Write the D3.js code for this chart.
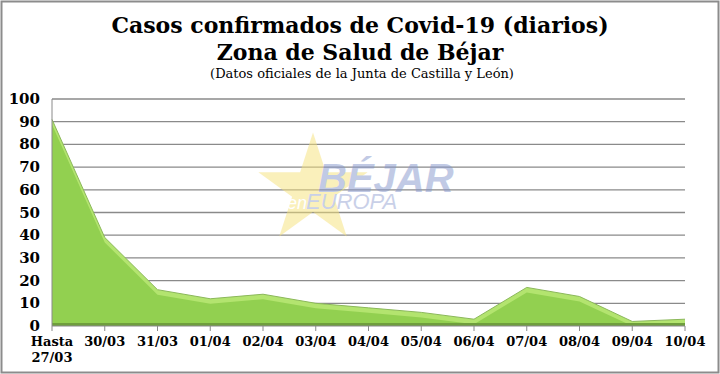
<!DOCTYPE html>
<html>
<head>
<meta charset="utf-8">
<script src="https://cdn.jsdelivr.net/npm/d3@7"></script>
<style>
  body { margin: 0; background: #fff; }
  svg { display: block; }
  .tick-y { font: bold 15px Georgia, "DejaVu Serif", serif; fill: #000; }
  .tick-x { font: bold 13px Georgia, "DejaVu Serif", serif; fill: #000; }
</style>
</head>
<body>
<svg id="chart"></svg>
<script>
// daily confirmed cases, Zona de Salud de Béjar
var categories = ['Hasta 27/03', '30/03', '31/03', '01/04', '02/04', '03/04', '04/04', '05/04', '06/04', '07/04', '08/04', '09/04', '10/04'];
var cases = [91, 39, 16, 12, 14, 10, 8, 6, 3, 17, 13, 2, 3];
var yTicks = [0, 10, 20, 30, 40, 50, 60, 70, 80, 90, 100];

var width = 720;
var height = 374;
var plotLeft = 52;
var plotRight = 685;
var plotTop = 99;
var plotBottom = 326;

var svg = d3.select('#chart')
    .attr('width', width)
    .attr('height', height);

svg.append('rect')
    .attr('x', 1.5).attr('y', 1.5)
    .attr('width', width - 3).attr('height', height - 3)
    .attr('fill', '#fff')
    .attr('stroke', '#8c8c8c')
    .attr('stroke-width', 2);

// titles
svg.append('text')
    .attr('x', 360).attr('y', 33)
    .attr('text-anchor', 'middle')
    .style('font', 'bold 22px Georgia, "DejaVu Serif", serif')
    .text('Casos confirmados de Covid-19 (diarios)');
svg.append('text')
    .attr('x', 360).attr('y', 60)
    .attr('text-anchor', 'middle')
    .style('font', 'bold 22px Georgia, "DejaVu Serif", serif')
    .text('Zona de Salud de Béjar');
svg.append('text')
    .attr('x', 362).attr('y', 78)
    .attr('text-anchor', 'middle')
    .style('font', '13px Georgia, "DejaVu Serif", serif')
    .text('(Datos oficiales de la Junta de Castilla y León)');

var x = d3.scalePoint()
    .domain(categories)
    .range([plotLeft, plotRight]);

var y = d3.scaleLinear()
    .domain([0, 100])
    .range([plotBottom, plotTop]);

// gridlines
svg.append('g')
    .selectAll('line')
    .data(yTicks.slice(1))
    .enter()
    .append('line')
    .attr('x1', plotLeft).attr('x2', plotRight)
    .attr('y1', function (d) { return y(d); })
    .attr('y2', function (d) { return y(d); })
    .attr('stroke', '#8a8a8a')
    .attr('stroke-width', 1.3);

// watermark
var wm = svg.append('g').attr('opacity', 0.5);
wm.append('path')
    .attr('d', d3.symbol().type(d3.symbolStar).size(3700)())
    .attr('transform', 'translate(313,190)')
    .attr('fill', '#f7e27a');
wm.append('text')
    .attr('x', 318).attr('y', 192)
    .style('font', 'italic bold 40px "Liberation Sans", Arial, sans-serif')
    .attr('fill', '#8596cc')
    .text('BÉJAR');
wm.append('text')
    .attr('x', 287).attr('y', 209)
    .style('font', 'italic 18px "Liberation Sans", Arial, sans-serif')
    .attr('fill', '#ffffff')
    .text('en');
wm.append('text')
    .attr('x', 306).attr('y', 209)
    .style('font', 'italic 22px "Liberation Sans", Arial, sans-serif')
    .attr('fill', '#95a3d3')
    .text('EUROPA');

// area (with a lighter top band to mimic the 3D look)
var area = d3.area()
    .x(function (d, i) { return x(categories[i]); })
    .y0(plotBottom)
    .y1(function (d) { return y(d); });

svg.append('path')
    .datum(cases)
    .attr('d', area)
    .attr('fill', '#b3e46f');

var inner = d3.area()
    .x(function (d, i) { return x(categories[i]); })
    .y0(plotBottom)
    .y1(function (d) { return Math.min(plotBottom, y(d) + 5); });

svg.append('path')
    .datum(cases)
    .attr('d', inner)
    .attr('fill', '#92d050');

svg.append('path')
    .datum(cases)
    .attr('d', d3.line()
        .x(function (d, i) { return x(categories[i]); })
        .y(function (d) { return y(d); }))
    .attr('fill', 'none')
    .attr('stroke', '#8bb85a')
    .attr('stroke-width', 1);

svg.append('rect')
    .attr('x', plotLeft).attr('y', plotBottom - 3)
    .attr('width', plotRight - plotLeft).attr('height', 3)
    .attr('fill', '#6f9e3d');

// axes
svg.append('line')
    .attr('x1', plotLeft).attr('x2', plotLeft)
    .attr('y1', plotTop).attr('y2', plotBottom)
    .attr('stroke', '#8a8a8a');
svg.append('line')
    .attr('x1', plotLeft).attr('x2', plotRight)
    .attr('y1', plotBottom).attr('y2', plotBottom)
    .attr('stroke', '#8a8a8a');

svg.append('g')
    .selectAll('line')
    .data(categories)
    .enter()
    .append('line')
    .attr('x1', function (d) { return x(d); })
    .attr('x2', function (d) { return x(d); })
    .attr('y1', plotBottom).attr('y2', plotBottom + 5)
    .attr('stroke', '#8a8a8a');

svg.append('g')
    .selectAll('text')
    .data(yTicks)
    .enter()
    .append('text')
    .classed('tick-y', true)
    .attr('x', 40)
    .attr('y', function (d) { return y(d) + 5; })
    .attr('text-anchor', 'end')
    .text(function (d) { return d; });

var xl = svg.append('g')
    .selectAll('text')
    .data(categories)
    .enter()
    .append('text')
    .classed('tick-x', true)
    .attr('x', function (d) { return x(d); })
    .attr('y', 346)
    .attr('text-anchor', 'middle');

xl.each(function (d) {
    var parts = d.split(' ');
    var t = d3.select(this);
    parts.forEach(function (p, i) {
        t.append('tspan')
            .attr('x', x(d))
            .attr('dy', i === 0 ? 0 : 16)
            .text(p);
    });
});
</script>
</body>
</html>
